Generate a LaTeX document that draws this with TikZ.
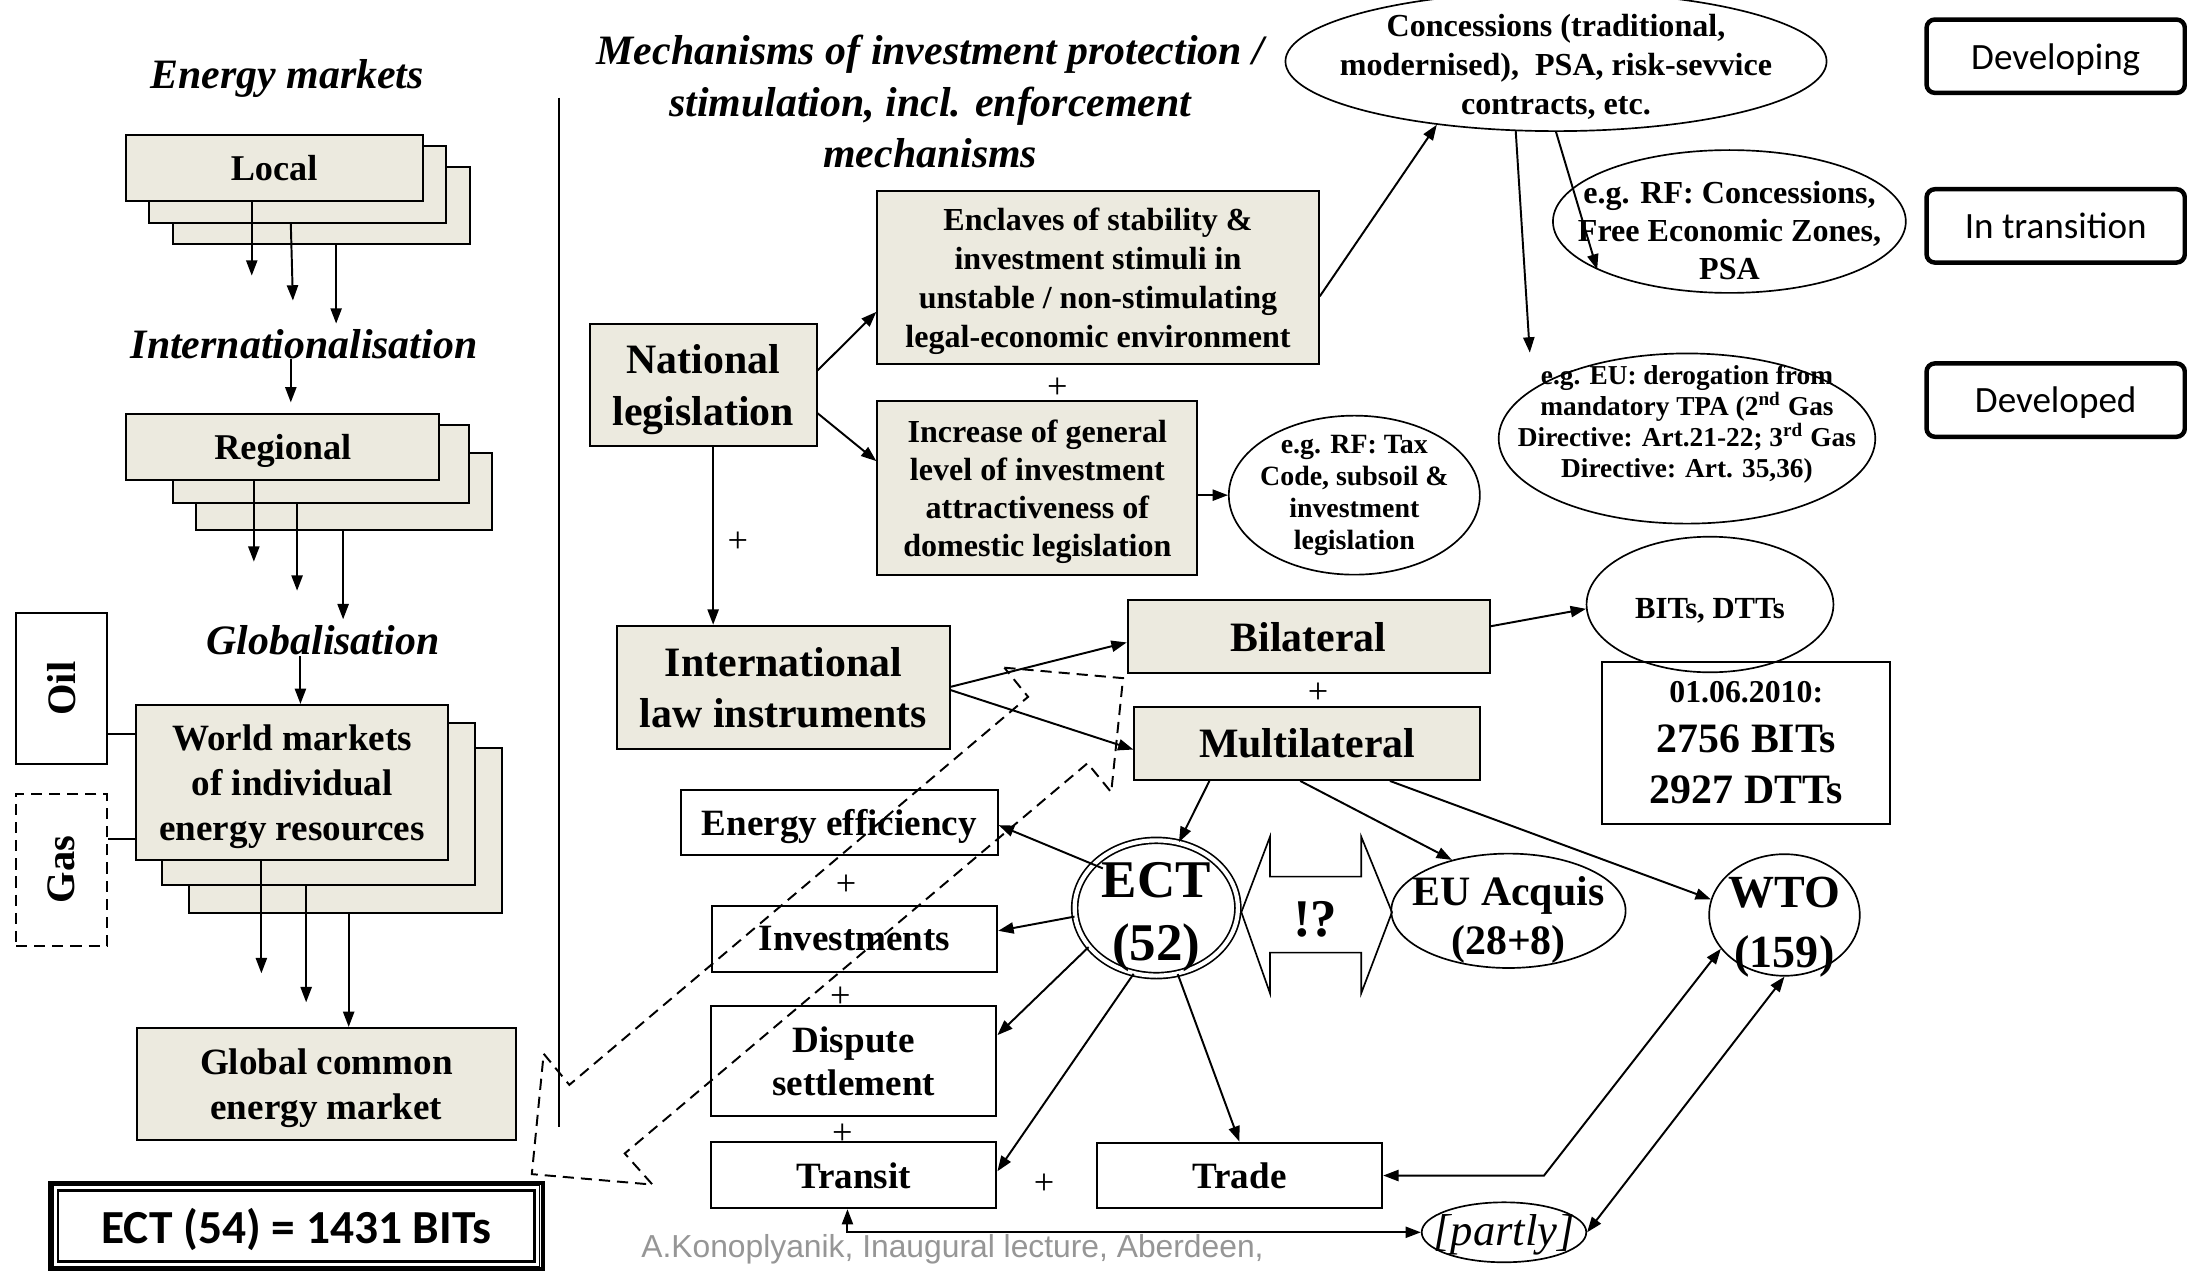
\documentclass[tikz,border=0pt]{standalone}
\usepackage{fontspec}
\setmainfont{Liberation Serif}
\newfontfamily\calib{Carlito}
\newfontfamily\arialf{Liberation Sans}
\usetikzlibrary{shapes.geometric,arrows.meta,calc}
\definecolor{beige}{RGB}{236,234,223}
\definecolor{footgray}{RGB}{150,150,150}
\newcommand{\myfs}[2]{\fontsize{#1pt}{#2pt}\selectfont}
\begin{document}
\begin{tikzpicture}[x=0.5pt,y=-0.5pt,
  sz/.style 2 args={font={\bfseries\myfs{#1}{#2}}},
  hd/.style={inner sep=0pt, align=center, font={\bfseries\itshape\myfs{15}{18.5}}},
  bx/.style={draw, line width=0.7pt, fill=beige, inner sep=0pt, align=center, text depth=0pt},
  wbx/.style={draw, line width=0.7pt, fill=white, inner sep=0pt, align=center, text depth=0pt},
  el/.style={draw, ellipse, line width=0.6pt, inner sep=0pt},
  lbl/.style={inner sep=0pt, align=center},
  plus/.style={inner sep=0pt, font=\myfs{13}{15}},
  arr/.style={-{Triangle[length=5.5pt,width=4pt]}, line width=0.7pt},
  darr/.style={{Triangle[length=5.5pt,width=4pt]}-{Triangle[length=5.5pt,width=4pt]}, line width=0.7pt},
  rbx/.style={draw, line width=1.6pt, rounded corners=3pt, inner sep=0pt, text depth=0pt, font={\calib\myfs{13.3}{16}}},
  dsh/.style={dash pattern=on 4pt off 2.5pt, line width=0.7pt}
]
\useasboundingbox (0,0) rectangle (1568,911);
\fill[white] (0,0) rectangle (1568,911);

% ---------------- left column ----------------
\node[hd] (EM) at (206,56) {Energy markets};
\node[hd] (IN) at (218,246.7) {Internationalisation};
\node[hd] (GL) at (231.6,459.3) {Globalisation};

\node[bx, minimum width=106.5pt, minimum height=27.5pt] (Lb) at (230.5,147.5) {};
\node[bx, minimum width=106.5pt, minimum height=27.5pt] (Lm) at (213.5,132.5) {};
\node[bx, sz={13}{15}, minimum width=106.5pt, minimum height=23.5pt] (Lf) at (196.5,120.5) {Local};

\node[bx, minimum width=106.25pt, minimum height=27.5pt] (Rb) at (246.75,352.5) {};
\node[bx, minimum width=106.15pt, minimum height=27.75pt] (Rm) at (229.85,332.75) {};
\node[bx, sz={13}{15}, minimum width=112.25pt, minimum height=23.7pt] (Rf) at (202.75,320.3) {Regional};

\node[bx, minimum width=112.35pt, minimum height=59.4pt] (Wb) at (247.65,595.4) {};
\node[bx, minimum width=112.35pt, minimum height=58pt] (Wm) at (228.35,576.3) {};
\node[bx, sz={13.3}{16.3}, minimum width=112.05pt, minimum height=55.7pt] (Wf) at (209.45,561.1) {World markets\\of individual\\energy resources};

\node[draw, line width=0.8pt, fill=white, minimum width=32.65pt, minimum height=54.3pt, inner sep=0pt] (Oil) at (44.15,493.7) {};
\node[lbl, sz={14.5}{16}, rotate=90] (OilT) at (Oil) {Oil};
\node[draw, dsh, fill=white, minimum width=32.65pt, minimum height=54.5pt, inner sep=0pt] (Gas) at (44.15,623.5) {};
\node[lbl, sz={14.5}{16}, rotate=90] (GasT) at (Gas) {Gas};

\node[bx, sz={13.3}{16}, minimum width=136pt, minimum height=40.2pt] (GCM) at (234,777.2) {Global common\\energy market};

\node[draw, line width=1.4pt, minimum width=176.5pt, minimum height=31pt, inner sep=0pt, text depth=0pt, font={\calib\bfseries\myfs{17}{20}}] (ECTb) at (212.5,879) {ECT (54) = 1431 BITs};
\draw[line width=0.5pt] ([shift={(3.5,3.5)}]ECTb.north west) rectangle ([shift={(-3.5,-3.5)}]ECTb.south east);
\draw[line width=1pt] ([shift={(7,7)}]ECTb.north west) rectangle ([shift={(-7,-7)}]ECTb.south east);

\draw[arr] (Lf.south -| 180.5,0) -- (180.5,197.6);
\draw[arr] (Lm.south -| 208.5,0) -- (210,215.5);
\draw[arr] (Lb.south -| 241,0) -- (241,232);
\draw[arr] (IN.south -| 208.5,0) -- (208.5,288.5);
\draw[arr] (Rf.south -| 182,0) -- (182,402.7);
\draw[arr] (Rm.south -| 213,0) -- (213,423.5);
\draw[arr] (Rb.south -| 246,0) -- (246,444);
\draw[arr] (GL.south -| 215.4,0) -- (Wf.north -| 215.4,0);
\draw[arr] (Wf.south -| 187.4,0) -- (187.4,697.8);
\draw[arr] (Wm.south -| 219.5,0) -- (219.5,718.6);
\draw[arr] (Wb.south -| 250,0) -- (GCM.north -| 250,0);
\draw[line width=0.6pt] (Oil.east |- 0,526) -- (Wf.west |- 0,526);
\draw[line width=0.6pt] (Gas.east |- 0,601.4) -- (Wf.west |- 0,601.4);

\draw[line width=0.7pt] (401,70) -- (401,808);

% ---------------- middle ----------------
\node[hd] (TT) at (667,73) {Mechanisms of investment protection /\\stimulation, incl. enforcement\\mechanisms};

\node[bx, sz={15}{18.5}, minimum width=81.25pt, minimum height=44pt] (Nat) at (504.25,276) {National\\legislation};
\node[bx, sz={11.5}{14}, minimum width=158.25pt, minimum height=62pt] (Enc) at (787.25,199) {Enclaves of stability \&\\investment stimuli in\\unstable / non-stimulating\\legal-economic environment};
\node[bx, sz={11.5}{13.7}, minimum width=114.75pt, minimum height=62.4pt] (Inc) at (743.75,349.9) {Increase of general\\level of investment\\attractiveness of\\domestic legislation};
\node[el, minimum width=90pt, minimum height=57pt] (Tax) at (971,355) {};
\node[lbl, sz={10}{11.5}] (TaxT) at (971,355) {e.g. RF: Tax\\Code, subsoil \&\\investment\\legislation};

\node[bx, sz={15}{18.5}, minimum width=119.25pt, minimum height=44.2pt] (Intl) at (561.75,492.8) {International\\law instruments};
\node[bx, sz={15}{18}, minimum width=129.75pt, minimum height=26.1pt] (Bil) at (938.25,456.6) {Bilateral};
\node[bx, sz={15}{18}, minimum width=123.85pt, minimum height=26.3pt] (Mul) at (937.15,532.9) {Multilateral};

\node[el, minimum width=88.5pt, minimum height=48.6pt] (BIT) at (1226,433.4) {};
\node[lbl, sz={11}{13}] (BITT) at (1226,438) {BITs, DTTs};
\node[draw, line width=0.7pt, minimum width=103.2pt, minimum height=58.05pt, inner sep=0pt] (Date) at (1251.8,532.85) {};
\node[lbl, sz={11.4}{13}] (DateA) at (1252,496.4) {01.06.2010:};
\node[lbl, sz={15}{18}] (DateB) at (1252,548) {2756 BITs\\2927 DTTs};

\node[wbx, sz={13.3}{16}, minimum width=113.55pt, minimum height=23.1pt] (EE) at (601.75,589.6) {Energy efficiency};
\node[wbx, sz={13.3}{16}, minimum width=102.35pt, minimum height=23.65pt] (Inv) at (612.65,672.95) {Investments};
\node[wbx, sz={13.3}{15.5}, minimum width=102.35pt, minimum height=39.45pt] (Disp) at (612.05,760.75) {Dispute\\settlement};
\node[wbx, sz={13.3}{16}, minimum width=102.35pt, minimum height=23.65pt] (Tr) at (612.05,842.55) {Transit};
\node[wbx, sz={13.3}{16}, minimum width=102.4pt, minimum height=23.6pt] (Trd) at (888.6,842.8) {Trade};

\node[draw, ellipse, double, double distance=1.5pt, line width=0.6pt, minimum width=58.5pt, minimum height=48.5pt, inner sep=0pt] (ECT) at (829,651) {};
\node[lbl, sz={19}{22.5}] (ECTT) at (829,657.5) {ECT\\(52)};

\draw[line width=0.6pt, fill=white] (890,654) -- (910.5,600) -- (910.5,628.5) -- (976,628.5) -- (976,600) -- (998,654) -- (976,712) -- (976,683) -- (910.5,683) -- (910.5,712) -- cycle;
\node[lbl, sz={19}{22}] (QX) at (943,659) {!?};

\node[el, minimum width=84pt, minimum height=41pt] (EU) at (1081.5,653) {};
\node[lbl, sz={15}{17.5}] (EUT) at (1081.5,659.6) {EU Acquis\\(28+8)};
\node[el, minimum width=54pt, minimum height=43.6pt] (WTO) at (1279.4,656) {};
\node[lbl, sz={16.5}{21.5}] (WTOT) at (1279.4,665) {WTO\\(159)};
\node[el, minimum width=59pt, minimum height=21.5pt] (Pt) at (1078.3,883.5) {};
\node[inner sep=0pt, font={\itshape\myfs{16}{18}}] (PtT) at (1078.3,885) {[partly]};

% ---------------- right ----------------
\node[el, minimum width=194pt, minimum height=50pt] (Con) at (1115.6,44) {};
\node[lbl, sz={11.5}{14}] (ConT) at (1115.6,48) {Concessions (traditional,\\modernised),\ \ PSA, risk-sevvice\\contracts, etc.};
\node[el, minimum width=126.5pt, minimum height=51.2pt] (RF) at (1239.9,158.8) {};
\node[lbl, sz={11.5}{13.5}] (RFT) at (1240,165.2) {e.g. RF: Concessions,\\Free Economic Zones,\\PSA};
\node[el, minimum width=135pt, minimum height=61pt] (EUd) at (1209.5,314.4) {};
\node[lbl, sz={9.8}{11.1}] (EUdT) at (1209.5,304.5) {e.g. EU: derogation from\\mandatory TPA (2\textsuperscript{nd} Gas\\Directive: Art.21-22; 3\textsuperscript{rd} Gas\\Directive: Art. 35,36)};

\node[rbx, minimum width=92.6pt, minimum height=26.3pt] (Dev) at (1473.85,40.3) {Developing};
\node[rbx, minimum width=92.6pt, minimum height=26.3pt] (Tra) at (1473.85,161.95) {In transition};
\node[rbx, minimum width=92.6pt, minimum height=26.3pt] (Dvd) at (1473.85,286.85) {Developed};

% plus signs
\node[plus] (p1) at (758,278) {+};
\node[plus] (p2) at (529,389) {+};
\node[plus] (p3) at (945,497) {+};
\node[plus] (p4) at (606.7,635) {+};
\node[plus] (p5) at (602.5,715.3) {+};
\node[plus] (p6) at (603.9,813) {+};
\node[plus] (p7) at (748.5,848.7) {+};

% footer
\node[inner sep=0pt, font={\arialf\myfs{11.4}{13}}, text=footgray] (Foot) at (682.9,895.6) {A.Konoplyanik, Inaugural lecture, Aberdeen,};

% ---------------- connectors ----------------
\draw[arr] (Nat.east |- 0,265.6) -- (Enc.west |- 0,223.6);
\draw[arr] (Nat.east |- 0,296.3) -- (Inc.west |- 0,330.6);
\draw[arr] (Nat.south -| 511.3,0) -- (Intl.north -| 511.3,0);
\draw[arr] (Enc.east |- 0,212.5) -- (Con.208);
\draw[arr] (Con.south) -- (RF.200);
\draw[arr] (Con.240) -- (EUd.north -| 1096.8,0);
\draw[arr] (Inc.east |- Tax.west) -- (Tax.west);
\draw[arr] ([yshift=0.2pt]Intl.east) -- ([yshift=-2pt]Bil.west);
\draw[arr] ([yshift=-1pt]Intl.east) -- ([yshift=-2.25pt]Mul.west);
\draw[arr] ([yshift=3.8pt]Bil.east) -- (BIT.182);
\draw[arr] (Mul.south -| 867.1,0) -- (ECT.71);
\draw[arr] (Mul.south -| 932.2,0) -- (EU.138);
\draw[arr] (Mul.south -| 996.5,0) -- (WTO.168);
\draw[arr] ([shift={(-38.3,-28.4)}]ECT.center) -- ([yshift=-1pt]EE.east);
\draw[arr] (ECT.186) -- ([yshift=2.8pt]Inv.east);
\draw[arr] (ECT.210) -- ([yshift=9.3pt]Disp.east);
\draw[arr] (ECT.251) -- ([yshift=1.4pt]Tr.east);
\draw[arr] (ECT.288) -- (Trd.north);
\draw[darr] (Trd.east) -- ++(115.3,0) -- (WTO.208);
\draw[darr] (Tr.south -| 607.6,0) |- (Pt.west);
\draw[darr] (Pt.east) -- (WTO.south);

% dashed lightning outline
\draw[dsh] (720.1,478.7) -- (805.2,486.2) -- (796.7,568) -- (779.7,547.2) -- (447.9,827) -- (467.8,849.3) -- (381.3,841.8) -- (389.8,755.5) -- (408.2,777.8) -- (737.1,499.6) -- cycle;
\end{tikzpicture}
\end{document}
